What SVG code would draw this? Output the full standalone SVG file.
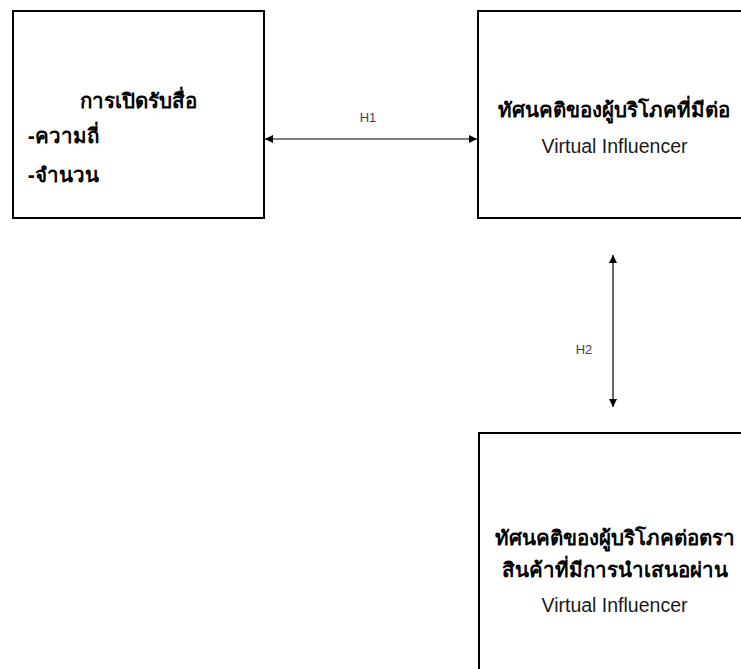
<svg xmlns="http://www.w3.org/2000/svg" width="741" height="669" viewBox="0 0 741 669">
<style>
.box{fill:#fff;stroke:#000;stroke-width:2}
.th{font-family:"Noto Sans","Liberation Sans",sans-serif;font-weight:bold;font-size:20.5px;fill:#000}
.en{font-family:"Liberation Sans",Arial,sans-serif;font-size:19.5px;fill:#1a1a1a}
.lbl{font-family:"Liberation Sans",Arial,sans-serif;font-size:13px;fill:#444}
.conn{stroke:#000;stroke-width:1.2;fill:none}
</style>
<defs>
<marker id="ah" viewBox="0 0 10 10" refX="10" refY="5" markerWidth="9" markerHeight="8" markerUnits="userSpaceOnUse" orient="auto-start-reverse">
<path d="M0,0 L10,5 L0,10 z" fill="#000"/>
</marker>
</defs>
<rect width="741" height="669" fill="#fff"/>
<g id="node-media">
<rect class="box" x="13" y="11" width="251" height="207"/>
<text class="th" x="138" y="108" text-anchor="middle">การเปิดรับสื่อ</text>
<text class="th" x="28" y="143">-ความถี่</text>
<text class="th" x="28" y="182">-จำนวน</text>
</g>
<g id="node-attitude-vi">
<rect class="box" x="478" y="11" width="270" height="207"/>
<text class="th" x="614" y="117" text-anchor="middle">ทัศนคติของผู้บริโภคที่มีต่อ</text>
<text class="en" x="614.5" y="153" text-anchor="middle">Virtual Influencer</text>
</g>
<g id="node-attitude-brand">
<rect class="box" x="479" y="433" width="270" height="250"/>
<text class="th" x="615" y="545" text-anchor="middle">ทัศนคติของผู้บริโภคต่อตรา</text>
<text class="th" x="615" y="577" text-anchor="middle">สินค้าที่มีการนำเสนอผ่าน</text>
<text class="en" x="614.5" y="612" text-anchor="middle">Virtual Influencer</text>
</g>
<g id="connectors">
<line class="conn" x1="265" y1="139" x2="477" y2="139" marker-start="url(#ah)" marker-end="url(#ah)"/>
<text class="lbl" x="368" y="122" text-anchor="middle">H1</text>
<line class="conn" x1="613" y1="255" x2="613" y2="407" marker-start="url(#ah)" marker-end="url(#ah)"/>
<text class="lbl" x="584" y="354" text-anchor="middle">H2</text>
</g>
</svg>
